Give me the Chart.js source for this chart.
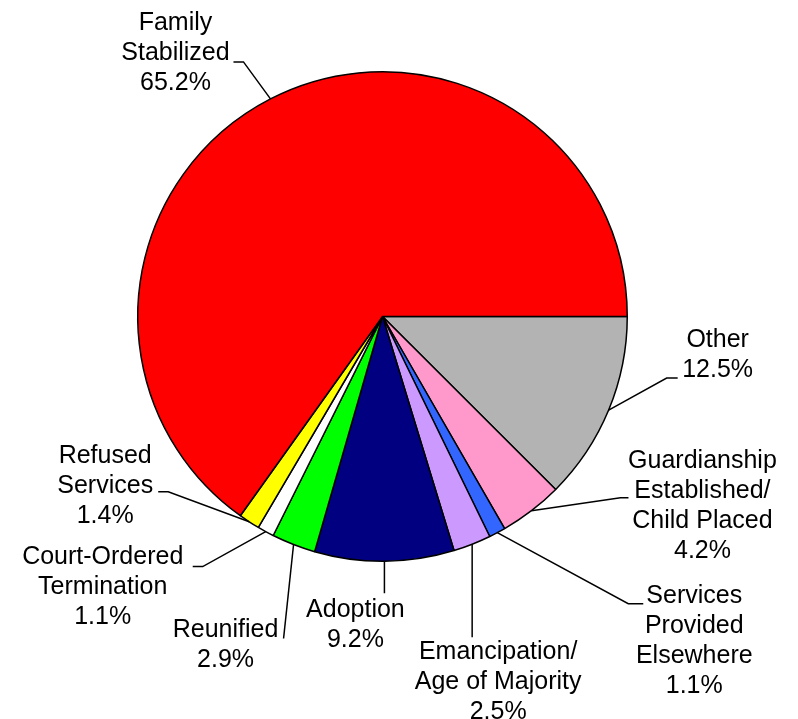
<!DOCTYPE html>
<html>
<head>
<meta charset="utf-8">
<script src="https://cdn.jsdelivr.net/npm/chart.js@4.4.1/dist/chart.umd.min.js"></script>
<style>
  html, body { margin: 0; padding: 0; background: #fff; }
  canvas { display: block; }
</style>
</head>
<body>
<canvas id="myChart" width="798" height="719"></canvas>
<script>
// slices in clockwise order, starting at 3 o'clock
var categories = [
  ["Other"],
  ["Guardianship", "Established/", "Child Placed"],
  ["Services", "Provided", "Elsewhere"],
  ["Emancipation/", "Age of Majority"],
  ["Adoption"],
  ["Reunified"],
  ["Court-Ordered", "Termination"],
  ["Refused", "Services"],
  ["Family", "Stabilized"]
];
var percents = [12.5, 4.2, 1.1, 2.5, 9.2, 2.9, 1.1, 1.4, 65.2];
var sliceColors = ["#b3b3b3", "#ff99cc", "#3366ff", "#cc99ff", "#000080",
                   "#00ff00", "#ffffff", "#ffff00", "#ff0000"];

// leader line layout per slice: elbow offset from the arc edge,
// horizontal stub length, and text offset from the end of the stub
var labelLayout = [
  { elbow: [58, -32],  stub: 11,  text: [40, -38] },
  { elbow: [89, -13],  stub: 8,   text: [74, -37] },
  { elbow: [131, 71],  stub: 15,  text: [51, -8] },
  { elbow: [0, 93],    stub: 0,   text: [26, 15] },
  { elbow: [0, 32],    stub: 0,   text: [-29, 17] },
  { elbow: [-10, 94],  stub: 0,   text: [-58, -8] },
  { elbow: [-63, 35],  stub: -10, text: [-90, -9] },
  { elbow: [-81, -30], stub: -10, text: [-53, -36] },
  { elbow: [-27, -37], stub: -10, text: [-58, -39] }
];

const leaderLabels = {
  id: 'leaderLabels',
  afterDatasetsDraw(chart) {
    const ctx = chart.ctx;
    const arcs = chart.getDatasetMeta(0).data;
    ctx.save();
    ctx.strokeStyle = '#000';
    ctx.lineWidth = 1.5;
    ctx.fillStyle = '#000';
    ctx.font = '25px "Liberation Sans", Arial, sans-serif';
    ctx.textAlign = 'center';
    ctx.textBaseline = 'middle';
    arcs.forEach((arc, i) => {
      const mid = (arc.startAngle + arc.endAngle) / 2;
      const x0 = arc.x + arc.outerRadius * Math.cos(mid);
      const y0 = arc.y + arc.outerRadius * Math.sin(mid);
      const lay = labelLayout[i];
      const x1 = x0 + lay.elbow[0];
      const y1 = y0 + lay.elbow[1];
      const x2 = x1 + lay.stub;
      ctx.beginPath();
      ctx.moveTo(x0, y0);
      ctx.lineTo(x1, y1);
      ctx.lineTo(x2, y1);
      ctx.stroke();

      const lines = categories[i].concat([percents[i].toFixed(1) + '%']);
      const tx = x2 + lay.text[0];
      const ty = y1 + lay.text[1];
      lines.forEach((ln, k) => {
        ctx.fillText(ln, tx, ty + k * 30);
      });
    });
    ctx.restore();
  }
};

const config = {
  type: 'pie',
  data: {
    labels: categories.map(c => c.join(' ')),
    datasets: [{
      data: percents,
      backgroundColor: sliceColors,
      borderColor: '#000',
      borderWidth: 1.5
    }]
  },
  options: {
    responsive: false,
    animation: false,
    rotation: 90,
    layout: {
      padding: { left: 137, right: 170, top: 71, bottom: 157 }
    },
    plugins: {
      legend: { display: false },
      tooltip: { enabled: false }
    }
  },
  plugins: [leaderLabels]
};

var ctx = document.getElementById('myChart');
var myChart = new Chart(ctx, config);
</script>
</body>
</html>
